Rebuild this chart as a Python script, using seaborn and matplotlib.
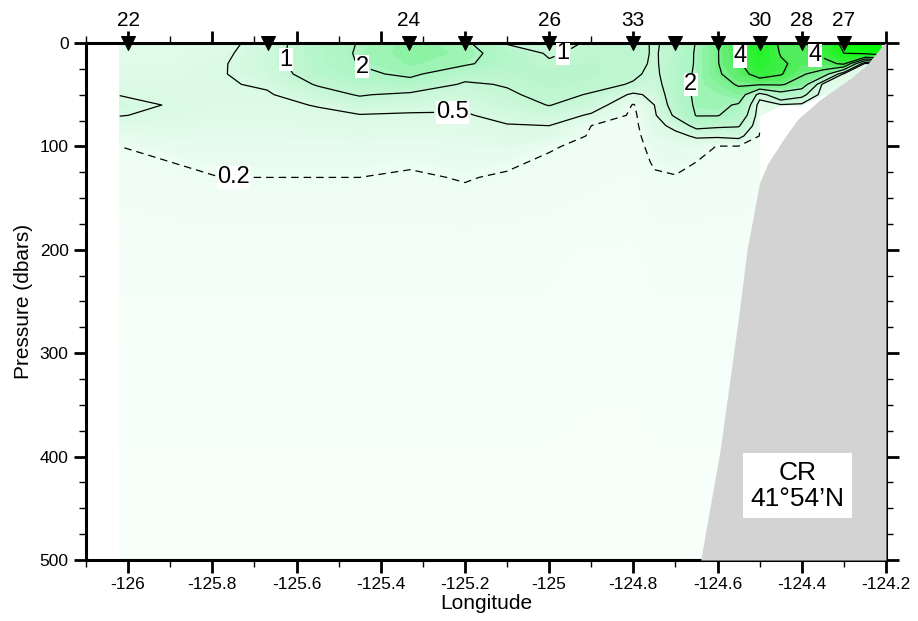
import numpy as np
import matplotlib
matplotlib.use('Agg')
import matplotlib.pyplot as plt
import seaborn as sns
from matplotlib.colors import LinearSegmentedColormap, LogNorm
from matplotlib.ticker import MultipleLocator, FuncFormatter

nan = np.nan

##### data (chlorophyll-like field, CR line 41 54'N) #####
pressures = [0, 10, 20, 30, 40, 50, 60, 70, 80, 90, 100, 115, 130, 150, 200, 500]

grid_lon = [-126.02, -125.9, -125.78, -125.67, -125.55, -125.45, -125.33, -125.2,
            -125.1, -125.0, -124.9, -124.8, -124.75, -124.7, -124.65, -124.6,
            -124.55, -124.5, -124.45, -124.4, -124.35, -124.3, -124.25, -124.21]

# one profile per grid longitude, values at the pressures above
chl_profiles = [
    [0.35, 0.35, 0.37, 0.40, 0.44, 0.49, 0.60, 0.51, 0.38, 0.28, 0.20, 0.16, 0.14, 0.12, 0.08, 0.04],
    [0.35, 0.35, 0.37, 0.40, 0.43, 0.45, 0.48, 0.45, 0.38, 0.32, 0.26, 0.20, 0.17, 0.14, 0.08, 0.04],
    [0.38, 0.42, 0.46, 0.47, 0.46, 0.44, 0.41, 0.38, 0.35, 0.31, 0.28, 0.24, 0.20, 0.16, 0.08, 0.04],
    [0.65, 0.70, 0.72, 0.68, 0.55, 0.46, 0.41, 0.38, 0.35, 0.31, 0.28, 0.24, 0.20, 0.16, 0.08, 0.04],
    [1.50, 1.50, 1.45, 1.30, 1.05, 0.75, 0.52, 0.42, 0.37, 0.32, 0.28, 0.24, 0.20, 0.16, 0.08, 0.04],
    [2.05, 2.10, 2.05, 1.80, 1.35, 1.05, 0.70, 0.48, 0.40, 0.34, 0.29, 0.24, 0.20, 0.16, 0.08, 0.04],
    [2.50, 2.50, 2.40, 2.20, 1.60, 0.85, 0.62, 0.46, 0.38, 0.32, 0.27, 0.22, 0.18, 0.15, 0.08, 0.04],
    [2.20, 2.30, 2.15, 1.30, 0.90, 0.70, 0.56, 0.47, 0.40, 0.34, 0.30, 0.26, 0.21, 0.17, 0.08, 0.04],
    [0.90, 1.60, 1.50, 1.25, 1.05, 0.90, 0.75, 0.60, 0.48, 0.40, 0.33, 0.23, 0.18, 0.15, 0.08, 0.04],
    [0.85, 0.90, 1.10, 1.40, 1.35, 1.20, 1.02, 0.70, 0.50, 0.40, 0.22, 0.17, 0.15, 0.13, 0.08, 0.04],
    [1.05, 1.20, 1.30, 1.35, 1.20, 0.95, 0.70, 0.45, 0.20, 0.17, 0.15, 0.14, 0.12, 0.11, 0.07, 0.04],
    [1.30, 1.25, 1.20, 1.10, 0.95, 0.42, 0.18, 0.15, 0.14, 0.13, 0.12, 0.12, 0.11, 0.10, 0.07, 0.04],
    [0.90, 0.92, 0.90, 0.85, 0.75, 0.60, 0.50, 0.44, 0.38, 0.32, 0.27, 0.22, 0.18, 0.15, 0.08, 0.04],
    [1.30, 1.35, 1.40, 1.45, 1.45, 1.40, 1.30, 1.10, 0.60, 0.40, 0.30, 0.25, 0.19, 0.15, 0.08, 0.04],
    [2.05, 2.10, 2.10, 2.15, 2.20, 2.20, 2.15, 2.05, 1.20, 0.55, 0.30, 0.20, 0.17, 0.15, 0.08, 0.04],
    [2.95, 2.95, 2.95, 2.90, 2.60, 2.30, 2.20, 2.05, 1.10, 0.55, 0.19, 0.17, 0.15, 0.13, 0.08, 0.04],
    [3.95, 3.95, 3.80, 3.40, 3.10, 2.60, 1.90, 1.50, 1.05, 0.60, 0.19, 0.16, 0.15, 0.13, 0.08, 0.04],
    [5.50, 5.50, 5.20, 4.60, 3.10, 0.70, 0.30, 0.26, 0.22, 0.19, 0.17, 0.15, 0.14, 0.12, 0.08, 0.04],
    [3.70, 3.90, 4.20, 4.10, 3.10, 1.60, 0.45, nan, nan, nan, nan, nan, nan, nan, nan, nan],
    [3.80, 3.80, 3.60, 3.10, 2.60, 1.20, 0.40, nan, nan, nan, nan, nan, nan, nan, nan, nan],
    [4.50, 4.30, 3.60, 2.60, 0.40, 0.30, nan, nan, nan, nan, nan, nan, nan, nan, nan, nan],
    [6.50, 6.00, 4.20, 0.40, 0.30, 0.30, nan, nan, nan, nan, nan, nan, nan, nan, nan, nan],
    [8.00, 6.20, 0.40, 0.30, 0.30, 0.30, nan, nan, nan, nan, nan, nan, nan, nan, nan, nan],
    [8.50, 7.00, 0.40, 0.30, 0.30, 0.30, nan, nan, nan, nan, nan, nan, nan, nan, nan, nan],
]

# stations along the top
st_lon = [-126.0, -125.667, -125.333, -125.2, -125.0, -124.8, -124.7, -124.6, -124.5, -124.4, -124.3]
st_name = ['22', '', '24', '', '26', '33', '', '', '30', '28', '27']

# shelf / slope bottom
bathy_depth = [0, 2, 21, 33, 55, 74, 91, 116, 135, 200, 265, 394, 500]
bathy_lon = [-124.20, -124.207, -124.245, -124.28, -124.357, -124.41, -124.44,
             -124.48, -124.50, -124.53, -124.55, -124.594, -124.64]

line_levels = [0.2, 0.5, 1, 2, 3, 4, 6]
# labelled contours and roughly where the labels sit
label_spec = {0.2: [(-125.75, 131)],
              0.5: [(-125.23, 55)],
              1: [(-125.61, 16), (-124.96, 16)],
              2: [(-125.44, 17), (-124.66, 40)],
              4: [(-124.54, 12), (-124.37, 14)]}

# colour ramp anchors (value -> rgb)
anchor_vals = [0.05, 0.2, 0.5, 1, 2, 3, 4, 6, 8]
anchor_rgb = [(246, 255, 250), (238, 253, 243), (218, 250, 228), (196, 247, 212),
              (172, 245, 196), (120, 240, 140), (70, 236, 80), (25, 245, 25), (0, 255, 0)]

##############################################################################
sns.set_style('ticks')
plt.rcParams['font.family'] = ['Liberation Sans', 'DejaVu Sans']
plt.rcParams['axes.unicode_minus'] = False
for k in ['text.color', 'axes.labelcolor', 'xtick.color', 'ytick.color', 'axes.edgecolor']:
    plt.rcParams[k] = 'black'

Z = np.ma.masked_invalid(np.array(chl_profiles).T)

lo, hi = np.log(anchor_vals[0]), np.log(anchor_vals[-1])
pos = [(np.log(v) - lo) / (hi - lo) for v in anchor_vals]
cmap = LinearSegmentedColormap.from_list('chl', list(zip(pos, [tuple(c / 255 for c in rgb) for rgb in anchor_rgb])))
norm = LogNorm(vmin=anchor_vals[0], vmax=anchor_vals[-1])

fig = plt.figure(figsize=(9.18, 6.21), dpi=100)
ax = fig.add_axes([0.0937, 0.0982, 0.8714, 0.8326])

cf = ax.contourf(grid_lon, pressures, Z, levels=np.geomspace(0.03, 12, 60), cmap=cmap, norm=norm,
                 extend='both', zorder=1)
cf.set_edgecolor('face')
cf.set_linewidth(0.3)

# one contour set per level so each can be labelled on its own
for lev in line_levels:
    ls = (0, (6, 4)) if lev == 0.2 else 'solid'
    cs = ax.contour(grid_lon, pressures, Z, levels=[lev], colors='black', linewidths=0.9,
                    linestyles=[ls], zorder=2)
    if lev in label_spec:
        txts = ax.clabel(cs, manual=label_spec[lev], inline=True, inline_spacing=3,
                         fontsize=17, fmt='%g', zorder=4)
        for t in txts:
            t.set_rotation(0)
            t.set_bbox(dict(facecolor='white', edgecolor='none', pad=0.3))

ax.fill_betweenx(bathy_depth, bathy_lon, -124.2, color='#d3d3d3', linewidth=0, zorder=3)

sns.scatterplot(x=st_lon, y=np.zeros(len(st_lon)), marker='v', s=100, color='black',
                edgecolor='black', clip_on=False, zorder=6, legend=False, ax=ax)
for lon, name in zip(st_lon, st_name):
    if name:
        ax.text(lon, -22, name, ha='center', va='center', fontsize=15)

ax.text(-124.41, 428, 'CR\n41\u00b054\u2019N', ha='center', va='center', fontsize=19,
        linespacing=1.1, zorder=5,
        bbox=dict(boxstyle='square,pad=0.3', facecolor='white', edgecolor='none'))

ax.set_xlim(-126.1, -124.2)
ax.set_ylim(500, 0)
ax.xaxis.set_major_locator(MultipleLocator(0.2))
ax.xaxis.set_minor_locator(MultipleLocator(0.1))
ax.yaxis.set_major_locator(MultipleLocator(100))
ax.yaxis.set_minor_locator(MultipleLocator(25))
ax.xaxis.set_major_formatter(FuncFormatter(lambda v, p: '{:g}'.format(round(v, 1))))
ax.tick_params(which='both', direction='out', top=True, right=True, labeltop=False, labelright=False)
ax.tick_params(which='major', length=9, width=2.0, labelsize=12.5)
ax.tick_params(which='minor', length=5, width=1.0)
for sp in ax.spines.values():
    sp.set_linewidth(2.2)
    sp.set_visible(True)

ax.set_xlabel('Longitude', fontsize=15, labelpad=1)
ax.set_ylabel('Pressure (dbars)', fontsize=15, labelpad=5)

fig.savefig('out.png', dpi=100)
